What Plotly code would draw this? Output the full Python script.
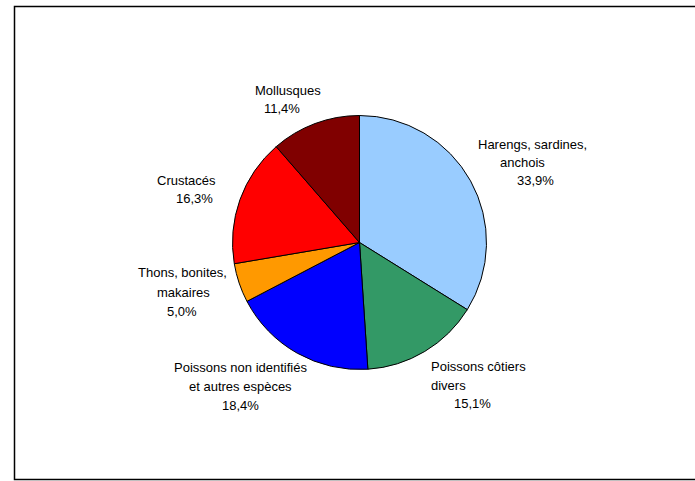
import plotly.graph_objects as go

categories = [
    "Harengs, sardines, anchois",
    "Poissons côtiers divers",
    "Poissons non identifiés et autres espèces",
    "Thons, bonites, makaires",
    "Crustacés",
    "Mollusques",
]
values = [33.9, 15.1, 18.4, 5.0, 16.3, 11.4]
colors = ["#99CCFF", "#339966", "#0000FF", "#FF9900", "#FF0000", "#800000"]

# label lines as shown on the chart (wrapped text + percentage)
label_lines = [
    ["Harengs, sardines,", "anchois"],
    ["Poissons côtiers", "divers"],
    ["Poissons non identifiés", "et autres espèces"],
    ["Thons, bonites,", "makaires"],
    ["Crustacés"],
    ["Mollusques"],
]

W, H = 695, 481

# pixel positions of each label line (layout only)
line_pos = [
    [(532, 144), (522, 162), (535, 181)],
    [(478, 366), (449, 385), (472, 403)],
    [(240, 367), (241, 386), (240, 405)],
    [(182, 272), (183, 292), (182, 311)],
    [(186, 180), (195, 198)],
    [(288, 90), (282, 108)],
]

fig = go.Figure()
fig.add_trace(go.Pie(
    labels=categories,
    values=values,
    sort=False,
    direction="clockwise",
    rotation=0,
    marker=dict(colors=colors, line=dict(color="#000000", width=1)),
    textinfo="none",
    hoverinfo="label+percent",
    showlegend=False,
    domain=dict(x=[(359.5 - 127) / W, (359.5 + 127) / W],
                y=[(H - 242.5 - 127) / H, (H - 242.5 + 127) / H]),
))

annotations = []
for lines, val, pos in zip(label_lines, values, line_pos):
    texts = lines + [f"{val:.1f}%".replace(".", ",")]
    for t, (px, py) in zip(texts, pos):
        annotations.append(dict(
            text=t, x=px / W, y=1 - py / H, xref="paper", yref="paper",
            xanchor="center", yanchor="middle", showarrow=False,
            font=dict(family="Liberation Sans, Arial, sans-serif", size=13, color="#000000"),
        ))

fig.update_layout(
    width=W, height=H,
    margin=dict(l=0, r=0, t=0, b=0),
    paper_bgcolor="#FFFFFF",
    plot_bgcolor="#FFFFFF",
    annotations=annotations,
    shapes=[dict(type="rect", xref="paper", yref="paper",
                 x0=14.5 / W, x1=1.02, y0=1 - 479.5 / H, y1=1 - 6.5 / H,
                 line=dict(color="#000000", width=1.5))],
)

fig.write_html(
    "out.html",
    config={"displayModeBar": False},
    post_script="document.body.style.margin='0';document.body.style.overflow='hidden';",
)
